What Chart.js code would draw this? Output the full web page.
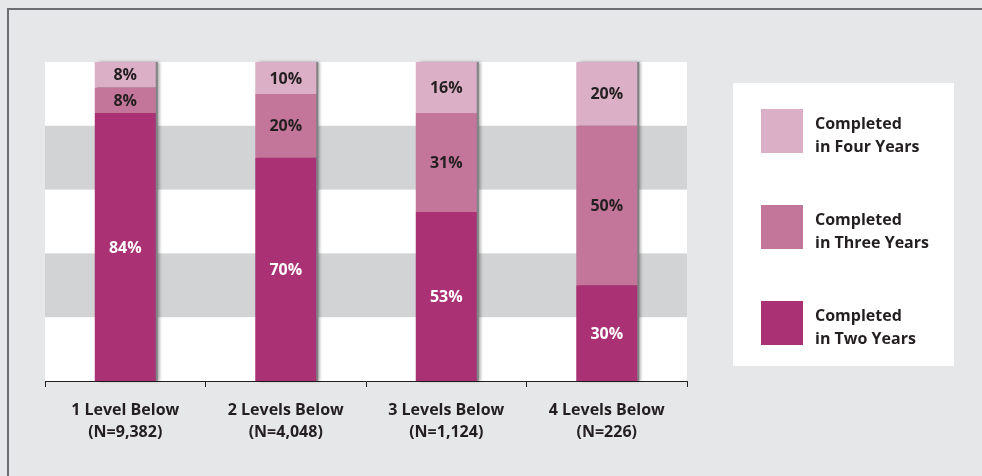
<!DOCTYPE html>
<html>
<head>
<meta charset="utf-8">
<script src="https://cdn.jsdelivr.net/npm/chart.js@4.4.0/dist/chart.umd.min.js"></script>
<style>
  html, body { margin: 0; padding: 0; background: #e6e7e8; }
  #wrap { width: 982px; height: 476px; position: relative; }
</style>
</head>
<body>
<div id="wrap"><canvas id="myChart" width="982" height="476"></canvas></div>
<script>
// chart data
const categories = [
  ['1 Level Below', '(N=9,382)'],
  ['2 Levels Below', '(N=4,048)'],
  ['3 Levels Below', '(N=1,124)'],
  ['4 Levels Below', '(N=226)']
];
const twoYears = [84, 70, 53, 30];
const threeYears = [8, 20, 31, 50];
const fourYears = [8, 10, 16, 20];
const seriesNames = [
  ['Completed', 'in Two Years'],
  ['Completed', 'in Three Years'],
  ['Completed', 'in Four Years']
];
const colors = ['#a93174', '#c37699', '#dbafc5'];

const FONT = '"Open Sans", "Noto Sans", sans-serif';

// background frame + grey bands behind bars
const backdrop = {
  id: 'backdrop',
  beforeDraw(chart) {
    const c = chart.ctx;
    const a = chart.chartArea;
    const y = chart.scales.y;
    c.save();
    c.fillStyle = '#e6e7e8';
    c.fillRect(0, 0, chart.width, chart.height);
    c.strokeStyle = '#6d6e71';
    c.lineWidth = 2;
    c.strokeRect(8, 9, chart.width + 20, chart.height + 20);
    c.fillStyle = '#ffffff';
    c.fillRect(a.left, a.top, a.right - a.left, a.bottom - a.top);
    c.fillStyle = '#d1d3d4';
    [[20, 40], [60, 80]].forEach(function(b) {
      const y0 = y.getPixelForValue(b[1]);
      const y1 = y.getPixelForValue(b[0]);
      c.fillRect(a.left, y0, a.right - a.left, y1 - y0);
    });
    c.restore();
  }
};

// thin grey shadow on the right side of bars
const barShadow = {
  id: 'barShadow',
  beforeDatasetsDraw(chart) {
    const c = chart.ctx;
    c.save();
    c.fillStyle = '#808285';
    c.shadowColor = 'rgba(0,0,0,0.35)';
    c.shadowBlur = 3;
    c.shadowOffsetX = 2;
    const m0 = chart.getDatasetMeta(0);
    const m2 = chart.getDatasetMeta(2);
    m0.data.forEach(function(bar, i) {
      const top = m2.data[i].y;
      const w = bar.width;
      c.fillRect(bar.x - w / 2 + 2, top, w, bar.base - top);
    });
    c.restore();
  }
};

// percentage labels inside segments
const segLabels = {
  id: 'segLabels',
  afterDatasetsDraw(chart) {
    const c = chart.ctx;
    c.save();
    c.font = 'bold 16px ' + FONT;
    c.textAlign = 'center';
    c.textBaseline = 'middle';
    chart.data.datasets.forEach(function(ds, di) {
      const meta = chart.getDatasetMeta(di);
      meta.data.forEach(function(bar, i) {
        c.fillStyle = di === 0 ? '#ffffff' : '#231f20';
        c.fillText(ds.data[i] + '%', bar.x, (bar.y + bar.base) / 2 + 1);
      });
    });
    c.restore();
  }
};

// legend box on the right
const sideLegend = {
  id: 'sideLegend',
  afterDraw(chart) {
    const c = chart.ctx;
    c.save();
    c.fillStyle = '#ffffff';
    c.fillRect(733, 83, 221, 283);
    c.font = 'bold 16px ' + FONT;
    c.textBaseline = 'middle';
    c.textAlign = 'left';
    const order = [2, 1, 0];
    order.forEach(function(di, k) {
      const top = 109 + k * 96;
      c.fillStyle = colors[di];
      c.fillRect(761, top, 42, 44);
      c.fillStyle = '#231f20';
      c.fillText(seriesNames[di][0], 815, top + 15);
      c.fillText(seriesNames[di][1], 815, top + 38);
    });
    c.restore();
  }
};

const ctx = document.getElementById('myChart').getContext('2d');
const MyChart = new Chart(ctx, {
  type: 'bar',
  data: {
    labels: categories,
    datasets: [
      { label: seriesNames[0].join(' '), data: twoYears, backgroundColor: colors[0] },
      { label: seriesNames[1].join(' '), data: threeYears, backgroundColor: colors[1] },
      { label: seriesNames[2].join(' '), data: fourYears, backgroundColor: colors[2] }
    ]
  },
  options: {
    responsive: false,
    animation: false,
    layout: { padding: { left: 45, right: 295, top: 62, bottom: 0 } },
    datasets: { bar: { categoryPercentage: 1, barPercentage: 0.38, borderWidth: 0 } },
    plugins: { legend: { display: false }, tooltip: { enabled: false } },
    scales: {
      x: {
        stacked: true,
        offset: true,
        afterFit: function(scale) { scale.height = 95; },
        grid: { drawOnChartArea: false, offset: true, tickLength: 6, color: '#231f20', lineWidth: 1 },
        border: { display: true, color: '#231f20', width: 1 },
        ticks: { color: '#231f20', padding: 13, font: { family: FONT, size: 16, weight: 'bold', lineHeight: 1.35 } }
      },
      y: {
        stacked: true,
        display: false,
        min: 0,
        max: 100
      }
    }
  },
  plugins: [backdrop, barShadow, segLabels, sideLegend]
});
</script>
</body>
</html>
